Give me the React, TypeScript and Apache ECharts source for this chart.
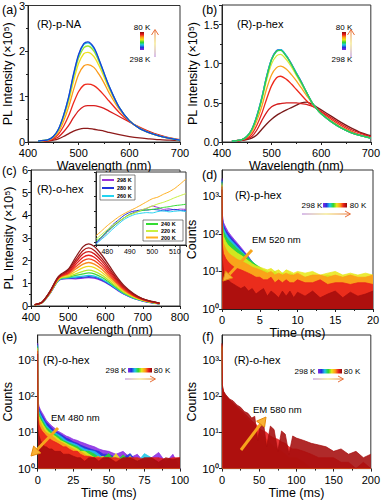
import React, { useEffect, useRef } from "react";
import * as echarts from "echarts";

const FONT = "'Liberation Sans', Arial, Helvetica, sans-serif";

// ---------- Panel (a): (R)-p-NA PL spectra ----------
const waveA = [420, 440, 450, 460, 470, 480, 490, 500, 510, 518, 530, 540, 550, 560, 580, 600, 620, 640, 660, 680, 700];
const aBlue = [0.02, 0.05, 0.12, 0.28, 0.58, 0.98, 1.5, 1.93, 2.16, 2.2, 2.08, 1.82, 1.52, 1.23, 0.76, 0.47, 0.3, 0.2, 0.13, 0.08, 0.04];
const aCyan = [0.02, 0.05, 0.12, 0.28, 0.58, 0.97, 1.48, 1.91, 2.14, 2.18, 2.06, 1.81, 1.51, 1.23, 0.76, 0.47, 0.3, 0.2, 0.13, 0.08, 0.04];
const aGreen = [0.02, 0.05, 0.12, 0.27, 0.56, 0.94, 1.44, 1.85, 2.07, 2.11, 2.0, 1.77, 1.49, 1.21, 0.76, 0.47, 0.3, 0.2, 0.13, 0.08, 0.04];
const aYellow = [0.02, 0.05, 0.11, 0.25, 0.52, 0.88, 1.34, 1.73, 1.94, 1.97, 1.88, 1.68, 1.43, 1.17, 0.75, 0.47, 0.3, 0.2, 0.13, 0.08, 0.04];
const aOrange = [0.02, 0.04, 0.1, 0.22, 0.45, 0.76, 1.15, 1.49, 1.67, 1.7, 1.64, 1.49, 1.3, 1.08, 0.72, 0.47, 0.31, 0.2, 0.13, 0.08, 0.04];
const aRed = [0.02, 0.04, 0.08, 0.17, 0.34, 0.57, 0.86, 1.11, 1.25, 1.27, 1.24, 1.15, 1.03, 0.9, 0.65, 0.45, 0.31, 0.21, 0.14, 0.08, 0.04];
const aRed2 = [0.02, 0.03, 0.06, 0.11, 0.22, 0.36, 0.54, 0.69, 0.78, 0.8, 0.8, 0.78, 0.74, 0.68, 0.56, 0.44, 0.33, 0.23, 0.15, 0.09, 0.05];
const aBrown = [0.02, 0.02, 0.04, 0.07, 0.12, 0.18, 0.24, 0.28, 0.3, 0.3, 0.28, 0.26, 0.24, 0.21, 0.16, 0.12, 0.09, 0.07, 0.05, 0.04, 0.03];
const aCurves = [aBrown, aRed2, aRed, aOrange, aYellow, aGreen, aCyan, aBlue];
const aColors = ["#8e1b1b", "#d91f1f", "#ee2a1c", "#fb9a1a", "#f0e020", "#9be22a", "#19c3dd", "#1a3fd6"];

// ---------- Panel (b): (R)-p-hex PL spectra ----------
const waveB = [420, 440, 450, 460, 470, 480, 490, 500, 510, 518, 530, 540, 550, 560, 570, 580, 590, 600, 620, 640, 660, 680, 700];
const bBlue = [0.01, 0.03, 0.07, 0.16, 0.33, 0.56, 0.84, 1.06, 1.17, 1.18, 1.1, 1.0, 0.88, 0.77, 0.64, 0.52, 0.43, 0.36, 0.26, 0.18, 0.12, 0.08, 0.05];
const bCyan = [0.01, 0.03, 0.07, 0.16, 0.33, 0.56, 0.84, 1.06, 1.16, 1.18, 1.1, 0.99, 0.88, 0.76, 0.64, 0.52, 0.43, 0.36, 0.26, 0.18, 0.12, 0.08, 0.05];
const bGreen = [0.01, 0.03, 0.07, 0.16, 0.32, 0.55, 0.83, 1.05, 1.16, 1.17, 1.09, 0.99, 0.87, 0.76, 0.64, 0.52, 0.43, 0.36, 0.26, 0.18, 0.12, 0.08, 0.05];
const bYellow = [0.01, 0.03, 0.07, 0.15, 0.31, 0.52, 0.79, 1.0, 1.1, 1.12, 1.05, 0.96, 0.85, 0.74, 0.63, 0.52, 0.43, 0.36, 0.26, 0.18, 0.12, 0.08, 0.05];
const bOrange = [0.01, 0.03, 0.06, 0.13, 0.27, 0.45, 0.68, 0.86, 0.95, 0.97, 0.93, 0.86, 0.78, 0.69, 0.6, 0.51, 0.43, 0.36, 0.27, 0.19, 0.13, 0.08, 0.05];
const bRed = [0.01, 0.03, 0.05, 0.1, 0.21, 0.36, 0.55, 0.72, 0.82, 0.84, 0.8, 0.74, 0.67, 0.6, 0.53, 0.47, 0.43, 0.38, 0.29, 0.21, 0.14, 0.09, 0.06];
const bRed2 = [0.01, 0.02, 0.04, 0.07, 0.15, 0.27, 0.38, 0.45, 0.48, 0.49, 0.5, 0.5, 0.5, 0.49, 0.48, 0.46, 0.43, 0.39, 0.31, 0.23, 0.16, 0.11, 0.07];
const bBrown = [0.01, 0.02, 0.03, 0.05, 0.09, 0.16, 0.23, 0.29, 0.34, 0.37, 0.41, 0.44, 0.47, 0.5, 0.51, 0.49, 0.45, 0.41, 0.33, 0.25, 0.18, 0.12, 0.08];
const bCurves = [bBrown, bRed2, bRed, bOrange, bYellow, bBlue, bCyan, bGreen];
const bColors = ["#7a1a1a", "#d41c1c", "#ee2a1c", "#fba21e", "#d8e83a", "#1a3fd6", "#19c3dd", "#2fd04a"];

// ---------- Panel (c): (R)-o-hex PL spectra ----------
const waveC = [410, 430, 450, 470, 480, 500, 520, 540, 555, 570, 590, 610, 630, 650, 675, 700, 725, 745];
const c1 = [0.06, 0.18, 0.62, 1.22, 1.4, 1.62, 2.15, 2.62, 2.74, 2.62, 2.25, 1.78, 1.3, 0.9, 0.55, 0.32, 0.2, 0.13];
const c2 = [0.06, 0.18, 0.61, 1.2, 1.37, 1.58, 2.03, 2.45, 2.56, 2.45, 2.1, 1.66, 1.22, 0.85, 0.52, 0.31, 0.19, 0.13];
const c3 = [0.06, 0.17, 0.6, 1.18, 1.35, 1.53, 1.93, 2.3, 2.4, 2.3, 1.98, 1.57, 1.16, 0.81, 0.5, 0.3, 0.19, 0.12];
const c4 = [0.06, 0.17, 0.59, 1.17, 1.33, 1.48, 1.83, 2.15, 2.24, 2.15, 1.86, 1.48, 1.1, 0.77, 0.48, 0.29, 0.18, 0.12];
const c5 = [0.05, 0.17, 0.58, 1.15, 1.31, 1.44, 1.73, 2.0, 2.08, 2.0, 1.74, 1.39, 1.04, 0.73, 0.46, 0.28, 0.18, 0.12];
const c6 = [0.05, 0.16, 0.57, 1.13, 1.29, 1.4, 1.63, 1.85, 1.92, 1.85, 1.62, 1.3, 0.98, 0.69, 0.44, 0.27, 0.17, 0.11];
const c7 = [0.05, 0.16, 0.56, 1.11, 1.27, 1.35, 1.52, 1.69, 1.75, 1.69, 1.49, 1.21, 0.91, 0.65, 0.41, 0.26, 0.16, 0.11];
const c8 = [0.05, 0.16, 0.55, 1.09, 1.24, 1.3, 1.42, 1.53, 1.58, 1.53, 1.36, 1.12, 0.85, 0.6, 0.39, 0.25, 0.16, 0.11];
const c9 = [0.05, 0.15, 0.55, 1.08, 1.22, 1.27, 1.35, 1.42, 1.46, 1.42, 1.27, 1.05, 0.8, 0.57, 0.37, 0.24, 0.15, 0.1];
const c10 = [0.05, 0.15, 0.54, 1.07, 1.2, 1.24, 1.28, 1.32, 1.35, 1.32, 1.19, 0.99, 0.76, 0.54, 0.35, 0.23, 0.15, 0.1];
const c11 = [0.05, 0.15, 0.54, 1.06, 1.19, 1.22, 1.24, 1.27, 1.29, 1.27, 1.15, 0.96, 0.74, 0.53, 0.35, 0.23, 0.15, 0.1];
const c12 = [0.05, 0.15, 0.53, 1.05, 1.18, 1.21, 1.2, 1.23, 1.25, 1.23, 1.12, 0.94, 0.72, 0.52, 0.34, 0.22, 0.14, 0.1];
const cCurves = [c12, c11, c10, c9, c8, c7, c6, c5, c4, c3, c2, c1];
const cColors = ["#8a2be2", "#2a3fd8", "#1ec8e0", "#40d840", "#b8e62a", "#f0d820", "#f98a1e", "#f2461e", "#e82020", "#d01a1a", "#b01818", "#8b1a1a"];

// ---------- Inset of (c) ----------
const waveIn = [475, 477.5, 480, 482.5, 485, 487.5, 490, 492.5, 495, 497.5, 500, 502.5, 505, 507.5, 510, 512.5, 515];
const in298 = [0.889, 0.927, 0.964, 1.0, 1.03, 1.059, 1.082, 1.098, 1.109, 1.12, 1.136, 1.127, 1.114, 1.118, 1.111, 1.116, 1.114];
const in280 = [0.895, 0.932, 0.973, 1.014, 1.045, 1.075, 1.095, 1.105, 1.109, 1.109, 1.114, 1.111, 1.105, 1.109, 1.114, 1.107, 1.105];
const in260 = [0.886, 0.918, 0.95, 0.986, 1.018, 1.048, 1.068, 1.082, 1.089, 1.093, 1.091, 1.1, 1.105, 1.098, 1.102, 1.105, 1.1];
const in240 = [0.905, 0.934, 0.968, 1.002, 1.032, 1.059, 1.082, 1.093, 1.105, 1.111, 1.114, 1.12, 1.127, 1.132, 1.139, 1.143, 1.148];
const in220 = [0.918, 0.95, 0.98, 1.009, 1.036, 1.059, 1.077, 1.093, 1.109, 1.123, 1.136, 1.15, 1.161, 1.175, 1.191, 1.205, 1.218];
const in200 = [0.941, 0.973, 1.007, 1.036, 1.064, 1.086, 1.105, 1.123, 1.143, 1.164, 1.184, 1.195, 1.214, 1.23, 1.252, 1.282, 1.314];
const inCurves = [in298, in280, in260, in240, in220, in200];
const inLabels = ["298 K", "280 K", "260 K", "240 K", "220 K", "200 K"];
const inColors = ["#9b30d8", "#2233dd", "#22d3f0", "#33dd33", "#c8f040", "#ffb020"];

// ---------- Decay colours (298 K -> 80 K) ----------
const decayColors = ["#8a2be2", "#2233dd", "#1ec8e6", "#2ed62e", "#e8e81a", "#ff9a1a", "#e81c1c", "#a50d0d"];

// ---------- Panel (d): (R)-p-hex, EM 520 nm ----------
const tD = [0, 0.05, 0.2, 0.5, 0.8, 1.2, 1.6, 2, 2.5, 3, 3.5, 4, 4.5, 5, 5.5, 6, 6.5, 7, 7.5, 8, 8.5, 9, 9.5, 10, 11, 12, 13, 14, 15, 16, 17, 18, 19, 20];
const dViolet = [3000, 320, 200, 150, 115, 90, 72, 58, 44, 33, 25, 18, 13, 10, 8, 7, 6, 6, 5, 6, 5, 5, 6, 4, 5, 4, 5, 4, 5, 4, 4, 5, 4, 4];
const dBlue = [2800, 260, 170, 125, 100, 80, 64, 52, 40, 31, 24, 18, 14, 11, 9, 8, 7, 7, 6, 7, 6, 6, 5, 6, 5, 6, 5, 5, 6, 5, 5, 4, 5, 5];
const dCyan = [2600, 220, 140, 105, 85, 68, 56, 46, 36, 29, 23, 18, 15, 12, 10, 9, 8, 8, 7, 8, 7, 7, 6, 7, 6, 7, 6, 6, 7, 6, 6, 5, 6, 6];
const dGreen = [2400, 180, 115, 85, 70, 58, 48, 40, 33, 27, 22, 18, 15, 13, 11, 10, 9, 10, 8, 9, 8, 9, 8, 8, 7, 8, 7, 8, 7, 7, 8, 6, 7, 7];
const dYellow = [2200, 140, 85, 62, 50, 42, 36, 31, 27, 23, 19, 16, 14, 13, 12, 11, 12, 10, 11, 9, 11, 10, 9, 10, 9, 10, 8, 9, 10, 8, 9, 8, 9, 8];
const dOrange = [2000, 90, 55, 40, 32, 27, 24, 21, 19, 17, 15, 13, 12, 11, 10, 9, 10, 8, 9, 8, 9, 8, 8, 9, 7, 8, 8, 7, 8, 7, 8, 7, 7, 8];
const dRed = [1800, 50, 30, 22, 18, 15, 13, 12, 11, 10, 9, 8, 7, 7, 6, 6, 7, 5, 6, 5, 6, 5, 5, 6, 5, 5, 6, 4.5, 5, 5, 4.5, 5, 5, 4.5];
const dDark = [1500, 20, 10, 7, 6, 5, 4.5, 4, 3.5, 4, 3, 3.5, 2.5, 3, 3.5, 2.2, 3, 2.5, 2, 3, 2.2, 3, 2, 2.8, 2.2, 3, 2, 2.5, 3, 2, 2.8, 2.2, 2.5, 3];
const dCurves = [dViolet, dBlue, dCyan, dGreen, dYellow, dOrange, dRed, dDark];

// ---------- Panel (e): (R)-o-hex, EM 480 nm ----------
const tE = [0, 0.3, 1, 2, 3, 4, 5, 6, 8, 10, 12, 14, 16, 18, 20, 22, 25, 28, 30, 33, 36, 40, 43, 46, 50, 55, 60, 65, 70, 75, 80, 85, 90, 95, 100];
const eViolet = [3000, 70, 52, 42, 36, 31, 26, 22, 18, 15, 13, 11, 10, 9, 8, 7.5, 6.5, 6, 5.5, 5, 4.5, 4, 3.5, 3.2, 3, 2.5, 3, 2, 2.5, 1.5, 2, 2.8, 1.5, 2.5, 1];
const eBlue = [2800, 60, 45, 36, 30, 26, 22, 19, 16, 13, 11, 10, 9, 8, 7, 6.5, 5.5, 5, 4.5, 4, 3.6, 3.2, 3, 2.5, 2.5, 2, 2, 2.6, 1.5, 2, 1.5, 2, 1, 1, 1];
const eCyan = [2600, 50, 38, 31, 26, 22, 19, 16, 13, 11, 10, 9, 8, 7, 6, 5.5, 5, 4.5, 4, 3.5, 3.2, 3, 2.5, 2, 2, 2, 1.5, 2, 1.5, 2.6, 2, 1, 1, 1, 1];
const eGreen = [2400, 42, 32, 26, 22, 19, 16, 14, 12, 10, 9, 8, 7, 6, 5.5, 5, 4.5, 4, 3.5, 3, 3, 2.5, 2, 2, 2.6, 1.5, 2.4, 1.5, 2, 1, 1, 1, 1, 1, 1];
const eYellow = [2200, 35, 27, 22, 19, 16, 14, 12, 10, 9, 8, 7, 6, 5.5, 5, 4.5, 4, 3.5, 3, 3, 2.5, 2, 2, 2.2, 1.5, 2.6, 1.5, 2.2, 1, 1, 1, 1, 1, 1, 1];
const eOrange = [2000, 28, 22, 18, 15, 13, 11, 10, 9, 8, 7, 6, 5.5, 5, 4.5, 4, 3.5, 3, 3, 2.5, 2, 2, 2.2, 1.5, 2, 1.5, 1, 1, 1, 1, 1, 1, 1, 1, 1];
const eRed = [1800, 22, 16, 13, 11, 10, 9, 8, 7, 6, 5.5, 5, 4.5, 4, 4, 3.5, 3, 3, 2.5, 2.2, 2.2, 2, 2, 2, 2, 2, 1.8, 2, 2, 1.8, 2, 2, 1.8, 2, 2];
const eDark = [1500, 12, 8, 6, 5, 4.5, 4, 4, 3.5, 3.5, 3, 3, 3, 2.5, 2.5, 2.5, 2.2, 2, 2, 1.6, 2, 2, 1.6, 2, 2, 1.5, 2, 2, 1.6, 2, 2, 1.5, 2, 1.8, 2];
const eCurves = [eViolet, eBlue, eCyan, eGreen, eYellow, eOrange, eRed, eDark];

// ---------- Panel (f): (R)-o-hex, EM 580 nm ----------
const tF = [0, 0.5, 2, 5, 10, 15, 20, 25, 30, 35, 40, 44, 48, 52, 56, 60, 65, 70, 75, 80, 85, 90, 95, 100, 110, 120, 130, 140, 150, 160, 170, 180, 190, 200];
const fDark = [3000, 210, 140, 112, 85, 75, 58, 50, 38, 34, 25, 28, 6, 20, 17, 4, 15, 12, 3, 11, 9, 2.5, 8, 7, 6, 5, 4.5, 4, 3, 3.5, 2.5, 3, 2, 2.5];
const fRed = [2800, 190, 135, 105, 82, 65, 52, 42, 34, 27, 21, 18, 15, 12, 11, 10, 8, 7, 6.5, 5.5, 5, 4, 3.5, 3.5, 3, 2.5, 2, 2, 2, 1.5, 1.5, 1, 1.5, 1];
const fOrange = [2600, 180, 130, 100, 78, 60, 47, 36, 28, 22, 17, 14, 11, 9, 7.5, 6.5, 5, 4, 3.5, 3, 2.5, 2, 2, 2, 1.5, 1, 1, 1, 1, 1, 1, 1, 1, 1];
const fYellow = [2400, 175, 125, 95, 72, 55, 42, 32, 24, 18, 14, 11, 9, 7, 6, 5, 4, 3, 2.5, 2, 2, 1.5, 1, 1, 1, 1, 1, 1, 1, 1, 1, 1, 1, 1];
const fGreen = [2200, 170, 120, 90, 68, 50, 38, 28, 20, 15, 11, 9, 7, 5.5, 4.5, 3.5, 2.5, 2, 1.5, 1, 1, 1, 1, 1, 1, 1, 1, 1, 1, 1, 1, 1, 1, 1];
const fCyan = [2000, 165, 115, 85, 64, 46, 34, 24, 17, 12, 9, 7, 5.5, 4, 3, 2.5, 2, 1, 1, 1, 1, 1, 1, 1, 1, 1, 1, 1, 1, 1, 1, 1, 1, 1];
const fBlue = [1800, 160, 110, 80, 60, 42, 30, 21, 14, 10, 7, 5.5, 4, 3, 2, 1.5, 1, 1, 1, 1, 1, 1, 1, 1, 1, 1, 1, 1, 1, 1, 1, 1, 1, 1];
const fViolet = [1600, 155, 105, 75, 55, 38, 26, 18, 12, 8, 5.5, 4.5, 3, 2.2, 1.5, 1, 1, 1, 1, 1, 1, 1, 1, 1, 1, 1, 1, 1, 1, 1, 1, 1, 1, 1];
const fCurves = [fViolet, fBlue, fCyan, fGreen, fYellow, fOrange, fRed, fDark];

const supDigits = ["\u2070", "\u00b9", "\u00b2", "\u00b3", "\u2074"];

const grids = [
  { left: 28, top: 4, width: 152, height: 138 },
  { left: 222, top: 5, width: 151, height: 137 },
  { left: 31, top: 170, width: 149, height: 136 },
  { left: 222, top: 170, width: 151, height: 139 },
  { left: 29, top: 335, width: 151, height: 139 },
  { left: 222, top: 335, width: 150, height: 139 },
  { left: 96, top: 172, width: 90, height: 73 },
];

const AX = "#222";
const lab = (extra = {}) => ({ color: "#000", fontSize: 11, lineHeight: 10, fontFamily: FONT, margin: 3, ...extra });
const nameStyle = { color: "#000", fontSize: 12.5, fontFamily: FONT };

function xAxisCfg(gi, min, max, interval, name, nameGap, extra = {}) {
  return {
    type: "value", gridIndex: gi, min, max, interval, name, nameGap, nameLocation: "middle",
    nameTextStyle: nameStyle,
    axisLine: { show: true, onZero: false, lineStyle: { color: AX, width: 1 } },
    axisTick: { show: true, length: 3, lineStyle: { color: AX } },
    minorTick: { show: true, splitNumber: 2, length: 2, lineStyle: { color: AX } },
    splitLine: { show: false },
    axisLabel: lab({ margin: 6 }),
    ...extra,
  };
}
function yAxisCfg(gi, min, max, interval, name, nameGap, extra = {}) {
  return {
    type: "value", gridIndex: gi, min, max, interval, name, nameGap, nameLocation: "middle",
    nameTextStyle: nameStyle,
    axisLine: { show: true, onZero: false, lineStyle: { color: AX, width: 1 } },
    axisTick: { show: true, length: 3, lineStyle: { color: AX } },
    minorTick: { show: true, splitNumber: 2, length: 2, lineStyle: { color: AX } },
    splitLine: { show: false },
    axisLabel: lab(),
    ...extra,
  };
}
function logYAxis(gi, nameGap) {
  return {
    type: "log", logBase: 10, gridIndex: gi, min: 1, max: 5000, name: "Counts", nameGap, nameLocation: "middle",
    nameTextStyle: nameStyle,
    axisLine: { show: true, onZero: false, lineStyle: { color: AX, width: 1 } },
    axisTick: { show: true, length: 3, lineStyle: { color: AX } },
    splitLine: { show: false },
    axisLabel: lab({
      fontSize: 11.5,
      showMaxLabel: false,
      formatter: (v) => "10" + supDigits[Math.round(Math.log10(v))],
    }),
  };
}

function specSeries(gi, xs, curves, colors, width = 1.3) {
  return curves.map((ys, k) => ({
    type: "line", xAxisIndex: gi, yAxisIndex: gi, silent: true,
    data: xs.map((x, i) => [x, ys[i]]), symbol: "none", smooth: 0.3,
    lineStyle: { color: colors[k], width }, itemStyle: { color: colors[k] },
  }));
}
function decaySeries(gi, ts, curves, colors) {
  return curves.map((ys, k) => ({
    type: "line", xAxisIndex: gi, yAxisIndex: gi, silent: true, z: 3 + k,
    data: ts.map((t, i) => [t, ys[i]]), symbol: "none",
    lineStyle: { color: colors[k], width: 0.7 }, itemStyle: { color: colors[k] },
    areaStyle: { color: colors[k], opacity: 0.88, origin: "start" },
  }));
}

const txt = (x, y, text, size = 11, align = "left", extra = {}) => ({
  type: "text", x, y, z: 100,
  style: { text, fontSize: size, fontFamily: FONT, fill: "#000", align, verticalAlign: "middle", ...extra },
});

function bigArrow(x1, y1, x2, y2) {
  const dx = x2 - x1, dy = y2 - y1, L = Math.hypot(dx, dy);
  const ux = dx / L, uy = dy / L, px = -uy, py = ux;
  const hl = 9, hw = 5;
  const bx = x2 - ux * hl, by = y2 - uy * hl;
  return [
    { type: "line", z: 100, shape: { x1, y1, x2: bx, y2: by }, style: { stroke: "#f7a51c", lineWidth: 3 } },
    {
      type: "polygon", z: 100,
      shape: { points: [[x2, y2], [bx + px * hw, by + py * hw], [bx - px * hw, by - py * hw]] },
      style: { fill: "#f9b233", stroke: "#e58a0c", lineWidth: 1 },
    },
  ];
}

const barStops = (rev) => {
  const cols = ["#8a2be2", "#2233dd", "#1ec8e6", "#2ed62e", "#e8e81a", "#ff9a1a", "#e81c1c", "#8b0a0a"];
  const c = rev ? [...cols].reverse() : cols;
  return c.map((color, i) => ({ offset: i / (c.length - 1), color }));
};

function vColorbar(x, y, ax) {
  return [
    { type: "rect", z: 100, shape: { x, y, width: 4, height: 18 }, style: { fill: new echarts.graphic.LinearGradient(0, 0, 0, 1, barStops(true)) } },
    txt(x + 2, y - 5, "80 K", 8, "center"),
    txt(x, y + 27, "298 K", 8, "center"),
    {
      type: "line", z: 100, shape: { x1: ax, y1: y + 25, x2: ax, y2: y - 2 },
      style: {
        lineWidth: 1,
        stroke: new echarts.graphic.LinearGradient(ax, y + 25, ax, y - 2, [
          { offset: 0, color: "#b07ad8" }, { offset: 0.5, color: "#f0e060" }, { offset: 1, color: "#e8703a" },
        ], true),
      },
    },
    { type: "polyline", z: 100, shape: { points: [[ax - 3.5, y + 3], [ax, y - 2.5], [ax + 3.5, y + 3]] }, style: { stroke: "#e8703a", lineWidth: 1, fill: null } },
  ];
}
function hColorbar(x, y, lx, rx, ay, a1, a2) {
  return [
    { type: "rect", z: 100, shape: { x, y, width: 24, height: 4.5 }, style: { fill: new echarts.graphic.LinearGradient(0, 0, 1, 0, barStops(false)) } },
    txt(lx, y + 2.5, "298 K", 8, "center"),
    txt(rx, y + 2.5, "80 K", 8, "center"),
    {
      type: "line", z: 100, shape: { x1: a1, y1: ay, x2: a2, y2: ay },
      style: {
        lineWidth: 1,
        stroke: new echarts.graphic.LinearGradient(a1, ay, a2, ay, [
          { offset: 0, color: "#b07ad8" }, { offset: 0.5, color: "#f0e060" }, { offset: 1, color: "#e8703a" },
        ], true),
      },
    },
    { type: "polyline", z: 100, shape: { points: [[a2 - 5, ay - 3], [a2 + 0.5, ay], [a2 - 5, ay + 3]] }, style: { stroke: "#e8703a", lineWidth: 1, fill: null } },
  ];
}

function insetLegend() {
  const els = [
    { type: "rect", z: 100, shape: { x: 100, y: 175, width: 35, height: 25 }, style: { fill: "#fff", stroke: "#333", lineWidth: 0.6 } },
    { type: "rect", z: 100, shape: { x: 143, y: 220, width: 40, height: 21 }, style: { fill: "#fff", stroke: "#333", lineWidth: 0.6 } },
  ];
  const pos = [
    [102, 180], [102, 188], [102, 196],
    [146, 224], [146, 231], [146, 237.5],
  ];
  inLabels.forEach((l, i) => {
    const [px, py] = pos[i];
    els.push({ type: "line", z: 101, shape: { x1: px, y1: py, x2: px + 12, y2: py }, style: { stroke: inColors[i], lineWidth: 2 } });
    els.push(txt(px + 15, py, l, 5.5, "left", { fontWeight: "bold" }));
  });
  return els;
}

export default function App() {
  const ref = useRef(null);
  useEffect(() => {
    const chart = echarts.init(ref.current, null, { renderer: "svg" });
    const pl = "PL Intensity (\u00d710\u2075)";
    const option = {
      animation: false,
      textStyle: { fontFamily: FONT },
      grid: grids.map((g, i) => ({
        ...g, show: true, borderColor: "#333", borderWidth: 1, containLabel: false,
        backgroundColor: i === 6 ? "#fff" : "transparent", z: i === 6 ? 10 : 0,
      })),
      xAxis: [
        xAxisCfg(0, 400, 700, 100, "Wavelength (nm)", 13),
        xAxisCfg(1, 400, 700, 100, "Wavelength (nm)", 13),
        xAxisCfg(2, 400, 800, 100, "Wavelength (nm)", 11),
        xAxisCfg(3, 0, 20, 5, "Time (ms)", 12),
        xAxisCfg(4, 0, 100, 25, "Time (ms)", 12),
        xAxisCfg(5, 0, 200, 50, "Time (ms)", 12),
        {
          ...xAxisCfg(6, 475, 515, undefined, "", 0),
          z: 11,
          axisLabel: lab({ fontSize: 7, lineHeight: 8, margin: 2, showMinLabel: false, showMaxLabel: false }),
          axisTick: { show: true, length: 2, lineStyle: { color: AX } },
          minorTick: { show: true, splitNumber: 2, length: 1.5, lineStyle: { color: AX } },
        },
      ],
      yAxis: [
        yAxisCfg(0, 0, 3, 1, pl, 12),
        yAxisCfg(1, 0, 1.75, 0.5, pl, 17, { axisLabel: lab({ showMaxLabel: false, formatter: (v) => v.toFixed(1) }) }),
        yAxisCfg(2, 0, 6, 1, pl, 16),
        logYAxis(3, 18),
        logYAxis(4, 17),
        logYAxis(5, 19),
        {
          ...yAxisCfg(6, 0.88, 1.36, undefined, "", 0),
          z: 11,
          axisLabel: { show: false },
          axisTick: { show: true, length: 2, lineStyle: { color: AX } },
          minorTick: { show: false },
        },
      ],
      series: [
        ...specSeries(0, waveA, aCurves, aColors),
        ...specSeries(1, waveB, bCurves, bColors),
        ...specSeries(2, waveC, cCurves, cColors),
        ...decaySeries(3, tD, dCurves, decayColors),
        ...decaySeries(4, tE, eCurves, decayColors),
        ...decaySeries(5, tF, fCurves, decayColors),
        ...specSeries(6, waveIn, inCurves, inColors, 1).map((s) => ({ ...s, z: 12, smooth: 0.2 })),
      ],
      graphic: [
        txt(2, 10, "(a)", 12.5),
        txt(202, 10, "(b)", 12.5),
        txt(2, 171, "(c)", 12.5),
        txt(202, 175, "(d)", 12.5),
        txt(2, 337, "(e)", 12.5),
        txt(202, 337, "(f)", 12.5),
        txt(37, 24, "(R)-p-NA", 11),
        txt(237, 24, "(R)-p-hex", 11),
        txt(37, 189, "(R)-o-hex", 11),
        txt(235, 194.5, "(R)-p-hex", 11),
        txt(43, 360, "(R)-o-hex", 11),
        txt(234, 360, "(R)-o-hex", 11),
        ...vColorbar(140, 32, 155),
        ...vColorbar(342, 32, 351),
        ...hColorbar(323, 203, 312, 358, 214, 302, 350),
        ...hColorbar(128, 368, 116, 162, 379, 125, 155),
        ...hColorbar(318, 369, 305, 352, 379, 313, 343),
        txt(252, 239, "EM 520 nm", 9.5),
        txt(51, 417, "EM 480 nm", 9.5),
        txt(253, 409, "EM 580 nm", 9.5),
        ...bigArrow(252, 250, 223, 281),
        ...bigArrow(58, 428, 31, 456),
        ...bigArrow(241, 450, 266, 417),
        ...insetLegend(),
      ],
    };
    chart.setOption(option);
    return () => chart.dispose();
  }, []);
  return <div ref={ref} style={{ position: "fixed", left: 0, top: 0, width: 383, height: 500, background: "#fff" }} />;
}
